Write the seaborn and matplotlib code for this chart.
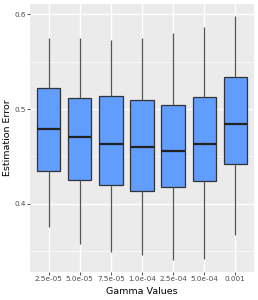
import numpy as np
import pandas as pd
import matplotlib
matplotlib.use("Agg")
import matplotlib.pyplot as plt
import seaborn as sns
from matplotlib.ticker import MultipleLocator

gammas = ["2.5e-05", "5.0e-05", "7.5e-05", "1.0e-04", "2.5e-04", "5.0e-04", "0.001"]
wmin = [0.375, 0.358, 0.349, 0.346, 0.341, 0.342, 0.367]
q1 = [0.435, 0.425, 0.420, 0.414, 0.418, 0.424, 0.442]
med = [0.479, 0.471, 0.463, 0.460, 0.456, 0.463, 0.484]
q3 = [0.522, 0.512, 0.514, 0.510, 0.504, 0.513, 0.534]
wmax = [0.575, 0.575, 0.573, 0.575, 0.580, 0.587, 0.598]

rows = []
for g, a, b, c, d, e in zip(gammas, wmin, q1, med, q3, wmax):
    for v in (a, b, c, d, e):
        rows.append({"gamma": g, "err": v})
df = pd.DataFrame(rows)

sns.set_theme(style="darkgrid")
plt.rcParams['font.family'] = ['DejaVu Sans']

fig = plt.figure(figsize=(2.58, 3.0), dpi=100)
ax = fig.add_axes([30/258, 28/300, 224/258, 268/300])
ax.set_facecolor("#EBEBEB")

sns.boxplot(data=df, x="gamma", y="err", order=gammas, ax=ax, whis=(0, 100),
            color="#619CFF", saturation=1, width=0.75, linewidth=0.9,
            linecolor="#333333", showfliers=False, showcaps=False,
            medianprops={"linewidth": 1.6, "color": "#222222"},
            whiskerprops={"color": "#555555"})

ax.set_xlim(-0.6, 6.6)
ax.set_ylim(0.328, 0.611)
ax.yaxis.set_major_locator(MultipleLocator(0.1))
ax.yaxis.set_minor_locator(MultipleLocator(0.05))
ax.set_yticks([0.4, 0.5, 0.6])
ax.set_yticklabels(["0.4", "0.5", "0.6"])
ax.grid(which="major", color="white", linewidth=1.0)
ax.grid(which="minor", axis="y", color="white", linewidth=0.5)
ax.set_axisbelow(True)
for s in ax.spines.values():
    s.set_visible(False)
ax.tick_params(axis="both", which="major", length=2.0, width=0.6, color="#333333",
               labelsize=5.2, labelcolor="#4D4D4D", pad=1.2, bottom=True, left=True)
ax.tick_params(axis="both", which="minor", length=0)
ax.set_xlabel("Gamma Values", fontsize=6.8, color="black")
ax.set_ylabel("Estimation Error", fontsize=6.8, color="black")
ax.xaxis.set_label_coords(0.5, (4 - 28) / 268)
ax.yaxis.set_label_coords((3 - 30) / 224, 0.5)
ax.yaxis.label.set_verticalalignment("top")
ax.xaxis.label.set_verticalalignment("bottom")

fig.savefig("out.png", dpi=100)
